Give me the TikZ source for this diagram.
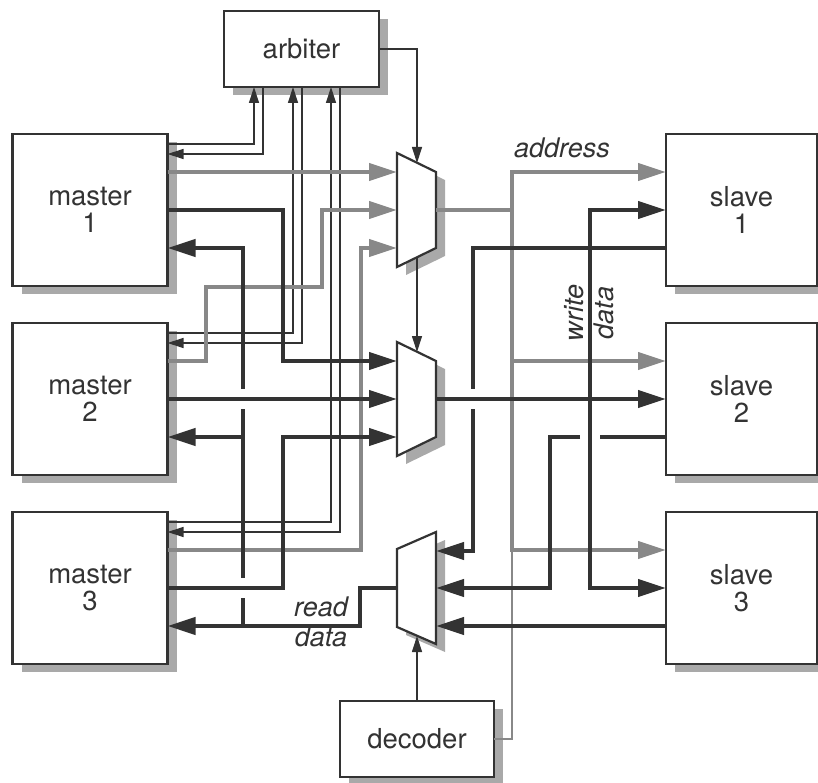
\documentclass[tikz,border=0pt]{standalone}
\usepackage{fontspec}
\setmainfont{TeX Gyre Heros}
\usetikzlibrary{arrows.meta,shadows,calc}

\definecolor{inkgray}{HTML}{333333}
\definecolor{busgray}{HTML}{888888}
\definecolor{shadegray}{HTML}{A9A9A9}

\tikzset{
  unit/.style={draw=inkgray, line width=2.2pt, fill=white, text=inkgray, align=center,
    inner sep=0pt, outer sep=0pt, font=\fontsize{27.5}{27}\selectfont,
    drop shadow={shadow xshift=9pt, shadow yshift=-8pt, fill=shadegray, opacity=1}},
  muxshape/.style={draw=inkgray, line width=2.2pt, fill=white,
    drop shadow={shadow xshift=9pt, shadow yshift=-8pt, fill=shadegray, opacity=1}},
  ctl/.style={draw=inkgray, line width=1.2pt},
  addrbus/.style={draw=busgray, line width=4pt},
  databus/.style={draw=inkgray, line width=4pt},
  bigtip/.style={-{Triangle[length=28pt,width=17pt]}},
  smalltip/.style={-{Triangle[length=16pt,width=10pt]}},
  lbl/.style={text=inkgray, inner sep=0pt, align=center, font=\fontsize{27}{30}\selectfont\itshape}
}

\begin{document}
\begin{tikzpicture}[x=1pt, y=-1pt]
  \clip (0,0) rectangle (818,783);

  % arbiter and decoder
  \node[unit, minimum width=155pt, minimum height=76pt] (arbiter) at (301.5,49) {arbiter};
  \node[unit, minimum width=154pt, minimum height=76pt] (decoder) at (417,739) {decoder};

  % masters (left column)
  \node[unit, minimum width=155pt, minimum height=152pt] (master1) at (90,210) {master\\1};
  \node[unit, minimum width=155pt, minimum height=152pt] (master2) at (90,399) {master\\2};
  \node[unit, minimum width=155pt, minimum height=152pt] (master3) at (90,588) {master\\3};

  % slaves (right column)
  \node[unit, minimum width=151pt, minimum height=152pt] (slave1) at (741.5,210) {slave\\1};
  \node[unit, minimum width=151pt, minimum height=152pt] (slave2) at (741.5,399) {slave\\2};
  \node[unit, minimum width=151pt, minimum height=152pt] (slave3) at (741.5,588) {slave\\3};

  % address mux, write data mux, read data mux
  \filldraw[muxshape] (397,153) -- (436,172) -- (436,248) -- (397,267) -- cycle;
  \filldraw[muxshape] (397,342) -- (436,361) -- (436,437) -- (397,456) -- cycle;
  \filldraw[muxshape] (397,549) -- (436,532) -- (436,644) -- (397,627) -- cycle;

  % mux ports
  \coordinate (mux1in1) at (397,172);
  \coordinate (mux1in2) at (397,210);
  \coordinate (mux1in3) at (397,248);
  \coordinate (mux1out) at (436,210);
  \coordinate (mux1top) at (417,163);
  \coordinate (mux1bot) at (417,257);
  \coordinate (mux2in1) at (397,361);
  \coordinate (mux2in2) at (397,399);
  \coordinate (mux2in3) at (397,437);
  \coordinate (mux2out) at (436,399);
  \coordinate (mux2top) at (417,352);
  \coordinate (mux3out) at (397,588);
  \coordinate (mux3in1) at (436,551);
  \coordinate (mux3in2) at (436,588);
  \coordinate (mux3in3) at (436,626);
  \coordinate (mux3bot) at (417,636);

  % request and grant lines to the arbiter
  \draw[ctl, smalltip] ($(master1.east)+(0,-66)$) -| ($(arbiter.south west)+(30,0)$);
  \draw[ctl, smalltip] ($(arbiter.south west)+(39,0)$) |- ($(master1.east)+(0,-56)$);
  \draw[ctl, smalltip] ($(master2.east)+(0,-66)$) -| ($(arbiter.south west)+(69,0)$);
  \draw[ctl, smalltip] ($(arbiter.south west)+(78,0)$) |- ($(master2.east)+(0,-56)$);
  \draw[ctl, smalltip] ($(master3.east)+(0,-66)$) -| ($(arbiter.south west)+(107,0)$);
  \draw[ctl, smalltip] ($(arbiter.south west)+(116,0)$) |- ($(master3.east)+(0,-56)$);

  % mux select lines
  \draw[ctl, smalltip] (arbiter.east) -| (mux1top);
  \draw[ctl, smalltip] (mux1bot) -- (mux2top);
  \draw[ctl, smalltip] (decoder.north) -- (mux3bot);

  % address from the masters
  \draw[addrbus, bigtip] (master1.east |- mux1in1) -- (mux1in1);
  \draw[addrbus, bigtip] ($(master2.east)+(0,-38)$) -| (206,287) -- (322,287) |- (mux1in2);
  \draw[addrbus, bigtip] ($(master3.east)+(0,-38)$) -- ++(193,0) |- (mux1in3);

  % address to the slaves and the decoder
  \draw[addrbus, bigtip] (mux1out) -- (512,210) |- ($(slave1.west)+(0,-38)$);
  \draw[addrbus, bigtip] (512,210) |- ($(slave3.west)+(0,-38)$);
  \draw[addrbus, bigtip] (512,361) -- ($(slave2.west)+(0,-38)$);
  \draw[draw=busgray, line width=1.2pt] (512,550) |- (decoder.east);

  % write data from the masters
  \draw[databus, bigtip] (master1.east) -- ++(115,0) |- (mux2in1);
  \draw[databus, bigtip] (master2.east) -- (mux2in2);
  \draw[databus, bigtip] (master3.east) -- ++(115,0) |- (mux2in3);

  % write data to the slaves
  \draw[databus, bigtip] (mux2out) -- (slave2.west);
  \draw[databus, bigtip] (590,399) |- (slave1.west);
  \draw[databus, bigtip] (590,399) |- (slave3.west);

  % read data from the slaves
  \draw[databus] ($(slave1.west)+(0,38)$) -| (473,389);
  \draw[databus, bigtip] (473,409) |- (mux3in1);
  \draw[databus] ($(slave2.west)+(0,38)$) -- (600,437);
  \draw[databus, bigtip] (580,437) -- ++(-30,0) |- (mux3in2);
  \draw[databus, bigtip] ($(slave3.west)+(0,38)$) -- (mux3in3);

  % read data to the masters
  \draw[databus, bigtip] (mux3out) -- ++(-37,0) |- ($(master3.east)+(0,38)$);
  \draw[databus, bigtip] (243,389) |- ($(master1.east)+(0,38)$);
  \draw[databus] (243,409) -- (243,578);
  \draw[databus, bigtip] (243,437) -- ($(master2.east)+(0,38)$);
  \draw[databus] (243,598) -- (243,626);

  % bus labels
  \node[lbl] (addrlbl) at (562,148) {address};
  \node[lbl, rotate=90] (wdatalbl) at (589,313) {write\\data};
  \node[lbl] (rdatalbl) at (321,622) {read\\data};
\end{tikzpicture}
\end{document}
